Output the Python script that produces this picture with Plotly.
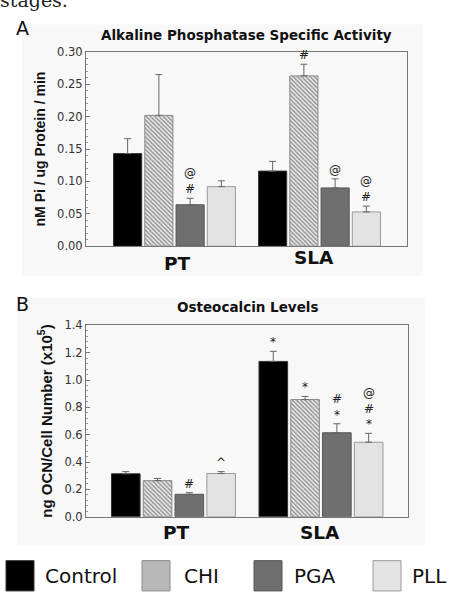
import plotly.graph_objects as go

# ---------------- data ----------------
groups = ["PT", "SLA"]
series = ["Control", "CHI", "PGA", "PLL"]

alp_values = {
    "Control": [0.143, 0.116],
    "CHI": [0.202, 0.263],
    "PGA": [0.064, 0.090],
    "PLL": [0.092, 0.053],
}
alp_errors = {
    "Control": [0.023, 0.015],
    "CHI": [0.063, 0.018],
    "PGA": [0.010, 0.014],
    "PLL": [0.009, 0.009],
}
ocn_values = {
    "Control": [0.314, 1.136],
    "CHI": [0.264, 0.857],
    "PGA": [0.164, 0.614],
    "PLL": [0.316, 0.545],
}
ocn_errors = {
    "Control": [0.016, 0.074],
    "CHI": [0.016, 0.023],
    "PGA": [0.012, 0.066],
    "PLL": [0.014, 0.065],
}
# significance marks: (series, group, text)
alp_marks = [("PGA", "PT", "@<br>#"), ("CHI", "SLA", "#"),
             ("PGA", "SLA", "@"), ("PLL", "SLA", "@<br>#")]
ocn_marks = [("PGA", "PT", "#"), ("PLL", "PT", "^"),
             ("Control", "SLA", "*"), ("CHI", "SLA", "*"),
             ("PGA", "SLA", "#<br>*"), ("PLL", "SLA", "@<br>#<br>*")]

alp_yticks = [0.00, 0.05, 0.10, 0.15, 0.20, 0.25, 0.30]
ocn_yticks = [0.0, 0.2, 0.4, 0.6, 0.8, 1.0, 1.2, 1.4]

# ---------------- styles ----------------
FILL = {"Control": "#000000", "CHI": "#ffffff", "PGA": "#6f6f6f", "PLL": "#e3e3e3"}
LINE = {"Control": "#333333", "CHI": "#8a8a8a", "PGA": "#555555", "PLL": "#9a9a9a"}
SANS = "DejaVu Sans"
ARIAL = "Liberation Sans, Arial"
W, H = 453, 595
BARGAP = 0.138
GW = 1 - BARGAP

fig = go.Figure()

def add_bars(values, errors, xa, ya):
    for s in series:
        pattern = None
        if s == "CHI":
            pattern = dict(shape="\\", size=3, solidity=0.5,
                           fgcolor="#3a3a3a", bgcolor="#eeeeee")
        fig.add_trace(go.Bar(
            x=groups, y=values[s], name=s, xaxis=xa, yaxis=ya,
            offsetgroup=s, showlegend=False,
            marker=dict(color=FILL[s], line=dict(color=LINE[s], width=1),
                        pattern=pattern),
            error_y=dict(type="data", symmetric=False, array=errors[s],
                         arrayminus=[0, 0], color="#666666",
                         thickness=1, width=3.5),
        ))

add_bars(alp_values, alp_errors, "x", "y")
add_bars(ocn_values, ocn_errors, "x2", "y2")

def px2py(p):
    return 1 - p / H

axis_common = dict(showline=True, linecolor="#777777", linewidth=1,
                   mirror=True, showgrid=False, zeroline=False)

fig.update_layout(
    width=W, height=H, autosize=False,
    margin=dict(l=0, r=0, t=0, b=0),
    paper_bgcolor="#ffffff", plot_bgcolor="#ffffff",
    barmode="group", bargap=BARGAP, bargroupgap=0.1,
    showlegend=False,
    xaxis=dict(domain=[86 / W, 407 / W], anchor="y", type="category",
               range=[-0.6103, 1.6034], showticklabels=False, ticks="",
               **axis_common),
    yaxis=dict(domain=[px2py(245), px2py(46)], anchor="x",
               range=[0, 0.30], tickvals=alp_yticks,
               ticktext=[f"{v:.2f}" for v in alp_yticks],
               ticks="inside", ticklen=4, tickcolor="#777777",
               minor=dict(dtick=0.01, ticks="inside", ticklen=2, tickcolor="#999999"),
               tickfont=dict(family=SANS, size=11.5, color="#333333"),
               title=dict(text="nM Pi / ug Protein / min", standoff=8,
                          font=dict(family=ARIAL, size=14, color="#111111",
                                    weight="bold")),
               **axis_common),
    xaxis2=dict(domain=[86 / W, 408 / W], anchor="y2", type="category",
                range=[-0.593, 1.590], showticklabels=False, ticks="",
                **axis_common),
    yaxis2=dict(domain=[px2py(522), px2py(326)], anchor="x2",
                range=[0, 1.4], tickvals=ocn_yticks,
                ticktext=[f"{v:.1f}" for v in ocn_yticks],
                ticks="inside", ticklen=4, tickcolor="#777777",
                minor=dict(dtick=0.04, ticks="inside", ticklen=2, tickcolor="#999999"),
                tickfont=dict(family=SANS, size=11.5, color="#333333"),
                title=dict(text="ng OCN/Cell Number (x10<sup>5</sup>)", standoff=8,
                           font=dict(family=ARIAL, size=15, color="#111111",
                                     weight="bold")),
                **axis_common),
)

# faint panel backgrounds
fig.add_shape(type="rect", xref="paper", yref="paper", layer="below",
              x0=22 / W, x1=423 / W, y0=px2py(275), y1=px2py(18),
              fillcolor="#f8f8f8", line=dict(width=0))
fig.add_shape(type="rect", xref="paper", yref="paper", layer="below",
              x0=17 / W, x1=425 / W, y0=px2py(551), y1=px2py(298),
              fillcolor="#f8f8f8", line=dict(width=0))

ann = []
def offset(s):
    return (-1.5 + series.index(s)) * GW / 4

def add_marks(marks, values, errors, xa, ya):
    for s, g, t in marks:
        gi = groups.index(g)
        top = values[s][gi] + errors[s][gi]
        ann.append(dict(x=gi + offset(s), y=top, xref=xa, yref=ya, text=t,
                        showarrow=False, yanchor="bottom", xanchor="center",
                        font=dict(family=SANS, size=12, color="#222222")))

add_marks(alp_marks, alp_values, alp_errors, "x", "y")
add_marks(ocn_marks, ocn_values, ocn_errors, "x2", "y2")

# category labels
for xa, ypix, shifts in (("x", [263, 257], [3, -6]), ("x2", [538, 538], [3, -1])):
    for gi, g in enumerate(groups):
        ann.append(dict(x=gi, y=px2py(ypix[gi]), xref=xa, yref="paper", text=g,
                        showarrow=False, yanchor="middle", xanchor="center",
                        xshift=shifts[gi],
                        font=dict(family=SANS, size=18.5, color="#111111",
                                  weight="bold")))

# titles
ann.append(dict(x=246 / W, y=px2py(29), xref="paper", yref="paper",
                text="Alkaline Phosphatase Specific Activity", showarrow=False,
                yanchor="middle", xanchor="center",
                font=dict(family=SANS, size=13.5, color="#111111", weight="bold")))
ann.append(dict(x=247 / W, y=px2py(307), xref="paper", yref="paper",
                text="Osteocalcin Levels", showarrow=False,
                yanchor="middle", xanchor="center",
                font=dict(family=SANS, size=13.5, color="#111111", weight="bold")))
# panel letters
ann.append(dict(x=14 / W, y=px2py(21), xref="paper", yref="paper", text="A",
                showarrow=False, xanchor="left", yanchor="middle",
                font=dict(family=SANS, size=19, color="#111111")))
ann.append(dict(x=14 / W, y=px2py(304), xref="paper", yref="paper", text="B",
                showarrow=False, xanchor="left", yanchor="middle",
                font=dict(family=SANS, size=19, color="#111111")))
# caption fragment at the very top (cut by the image edge in the reference)
ann.append(dict(x=-2 / W, y=px2py(6), xref="paper", yref="paper", text="stages.",
                showarrow=False, xanchor="left", yanchor="bottom",
                font=dict(family="DejaVu Serif", size=19, color="#222222")))

# legend (drawn as swatches + labels)
legend_pos = {"Control": (6, 43), "CHI": (142, 182), "PGA": (254, 292), "PLL": (373, 410)}
for s in series:
    bx, tx = legend_pos[s]
    fig.add_shape(type="rect", xref="paper", yref="paper",
                  x0=bx / W, x1=(bx + 28) / W, y0=px2py(598), y1=px2py(567),
                  fillcolor=FILL[s] if s != "CHI" else "#b8b8b8",
                  line=dict(color=LINE[s], width=1))
    ann.append(dict(x=tx / W, y=px2py(583), xref="paper", yref="paper", text=s,
                    showarrow=False, xanchor="left", yanchor="middle",
                    font=dict(family=SANS, size=20, color="#111111")))

fig.update_layout(annotations=ann)

fig.write_html("out.html", config={"displayModeBar": False},
               post_script="document.body.style.margin='0';")
